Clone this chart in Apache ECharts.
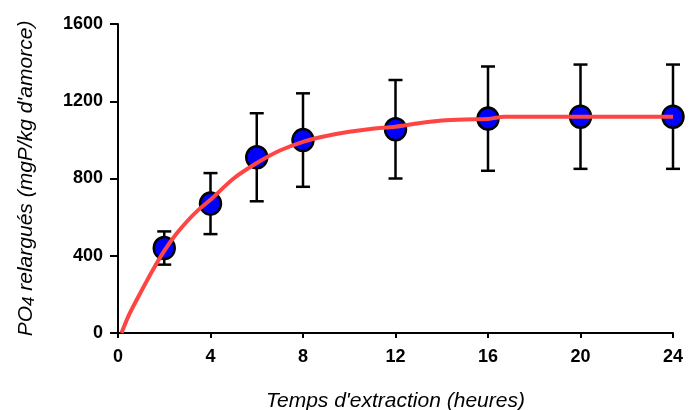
<!DOCTYPE html>
<html>
<head>
<meta charset="utf-8">
<script src="https://cdn.jsdelivr.net/npm/echarts@6/dist/echarts.min.js"></script>
<style>
  html, body { margin: 0; padding: 0; background: #fff; }
  #chart { width: 689px; height: 410px; }
</style>
</head>
<body>
<div id="chart"></div>
<script>
// mesures (moyenne +/- ecart)
const hours = [2, 4, 6, 8, 12, 16, 20, 24];
const means = [440, 670, 910, 999, 1055, 1110, 1120, 1120];
const errors = [86, 158, 228, 242, 255, 270, 270, 270];

// courbe ajustee
const fitHours = [0.15, 0.5, 1, 1.5, 2, 2.5, 3, 3.5, 4, 5, 6, 7, 8, 9, 10, 11, 12, 13, 14, 15, 16, 16.7, 20, 24];
const fitValues = [0, 100, 215, 325, 425, 510, 580, 640, 690, 800, 880, 945, 990, 1020, 1042, 1058, 1068, 1086, 1100, 1106, 1108, 1120, 1120, 1120];

const xTicks = [0, 4, 8, 12, 16, 20, 24];
const yTicks = [0, 400, 800, 1200, 1600];

let myChart = echarts.init(document.getElementById('chart'));

let labelStyle = {
  color: '#000',
  fontFamily: 'Liberation Sans',
  fontWeight: 'bold',
  fontSize: 18,
  formatter: v => String(v)
};

let option = {
  animation: false,
  grid: {
    left: 118,
    right: 16,
    top: 24,
    bottom: 77,
    outerBoundsMode: 'none',
    containLabel: false
  },
  xAxis: {
    type: 'value',
    min: xTicks[0],
    max: xTicks[xTicks.length - 1],
    interval: 4,
    name: "Temps d'extraction (heures)",
    nameLocation: 'middle',
    nameGap: 58,
    nameTextStyle: {
      color: '#000',
      fontFamily: 'Liberation Sans',
      fontStyle: 'italic',
      fontSize: 21
    },
    axisLine: { lineStyle: { color: '#000', width: 2 } },
    axisTick: { length: 5, lineStyle: { color: '#000', width: 2 } },
    axisLabel: Object.assign({ margin: 15 }, labelStyle),
    splitLine: { show: false }
  },
  yAxis: {
    type: 'value',
    min: yTicks[0],
    max: yTicks[yTicks.length - 1],
    interval: 400,
    name: '{a|PO}{s|4}{a| relargués (mgP/kg d\'amorce)}',
    nameLocation: 'middle',
    nameGap: 80,
    nameRotate: 90,
    nameTextStyle: {
      rich: {
        a: {
          color: '#000',
          fontFamily: 'Liberation Sans',
          fontStyle: 'italic',
          fontSize: 21,
          lineHeight: 24
        },
        s: {
          color: '#000',
          fontFamily: 'Liberation Sans',
          fontStyle: 'italic',
          fontSize: 17,
          lineHeight: 24,
          verticalAlign: 'bottom',
          padding: [6, 0, 0, 0]
        }
      }
    },
    axisLine: { lineStyle: { color: '#000', width: 2 } },
    axisTick: { length: 8, lineStyle: { color: '#000', width: 2 } },
    axisLabel: Object.assign({ margin: 15 }, labelStyle),
    splitLine: { show: false }
  },
  series: [{
    name: 'erreur',
    type: 'custom',
    z: 1,
    clip: false,
    data: hours.map((h, i) => [h, means[i] - errors[i], means[i] + errors[i]]),
    renderItem: function (params, api) {
      let lo = api.coord([api.value(0), api.value(1)]);
      let hi = api.coord([api.value(0), api.value(2)]);
      let w = 7;
      let style = { stroke: '#000', lineWidth: 2.5 };
      return {
        type: 'group',
        children: [
          { type: 'line', shape: { x1: hi[0], y1: hi[1], x2: lo[0], y2: lo[1] }, style: style },
          { type: 'line', shape: { x1: hi[0] - w, y1: hi[1], x2: hi[0] + w, y2: hi[1] }, style: style },
          { type: 'line', shape: { x1: lo[0] - w, y1: lo[1], x2: lo[0] + w, y2: lo[1] }, style: style }
        ]
      };
    }
  }, {
    name: 'mesures',
    type: 'scatter',
    z: 2,
    clip: false,
    symbol: 'circle',
    symbolSize: [21, 22],
    itemStyle: {
      color: '#0000ff',
      borderColor: '#000',
      borderWidth: 2.5,
      opacity: 1
    },
    data: hours.map((h, i) => [h, means[i]])
  }, {
    name: 'modele',
    type: 'line',
    z: 3,
    smooth: 0.3,
    symbol: 'none',
    lineStyle: { color: '#ff4444', width: 4 },
    data: fitHours.map((h, i) => [h, fitValues[i]])
  }]
};

myChart.setOption(option, true);

window.addEventListener('resize', () => {
  myChart.resize();
});
</script>
</body>
</html>
